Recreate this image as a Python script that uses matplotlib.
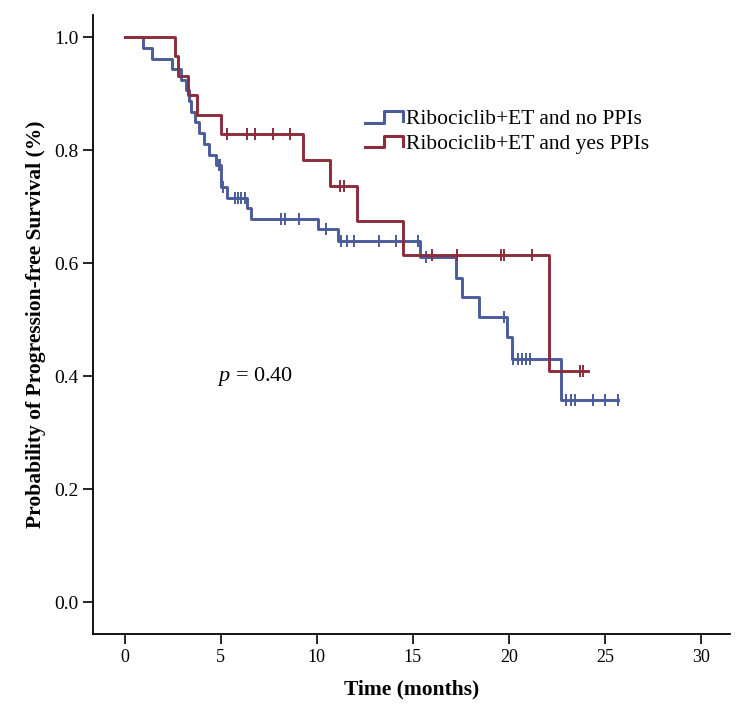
import numpy as np
import matplotlib
matplotlib.use("Agg")
import matplotlib.pyplot as plt
from matplotlib.legend_handler import HandlerBase
from matplotlib.lines import Line2D

plt.rcParams['font.family'] = ['Liberation Serif', 'DejaVu Serif']
plt.rcParams['mathtext.fontset'] = 'custom'
plt.rcParams['mathtext.it'] = 'Liberation Serif:italic'
plt.rcParams['mathtext.rm'] = 'Liberation Serif'

# Kaplan-Meier estimates
no_ppi_label = "Ribociclib+ET and no PPIs"
no_ppi_times = [0, 0.95, 1.4, 2.45, 2.95, 3.2, 3.35, 3.45, 3.65, 3.85, 4.15, 4.4,
                4.75, 5.03, 5.35, 6.35, 6.55, 10.05, 11.1, 15.35, 17.25, 17.56,
                18.46, 19.9, 20.16, 22.74]
no_ppi_surv = [1.0, 0.981, 0.962, 0.943, 0.925, 0.906, 0.887, 0.868, 0.849, 0.830,
               0.811, 0.792, 0.774, 0.735, 0.716, 0.697, 0.679, 0.660, 0.639,
               0.611, 0.574, 0.540, 0.505, 0.469, 0.430, 0.357]
no_ppi_censor = [4.9, 4.97, 5.1, 5.72, 5.89, 6.07, 6.24, 8.15, 8.32, 9.1, 10.5,
                 11.27, 11.6, 11.96, 13.26, 14.13, 14.5, 15.25, 15.7, 19.75, 20.2,
                 20.5, 20.7, 20.9, 21.1, 23.0, 23.25, 23.45, 24.4, 25.0, 25.7]
no_ppi_end = 25.7

ppi_label = "Ribociclib+ET and yes PPIs"
ppi_times = [0, 2.6, 2.75, 3.3, 3.75, 5.0, 9.3, 10.7, 12.1, 14.5, 22.1]
ppi_surv = [1.0, 0.966, 0.931, 0.897, 0.862, 0.828, 0.782, 0.736, 0.675, 0.614, 0.409]
ppi_censor = [5.3, 6.35, 6.8, 7.7, 8.6, 11.2, 11.4, 16.0, 17.3, 19.6, 19.75, 21.2,
              23.7, 23.85]
ppi_end = 24.1

p_text = "$p$ = 0.40"

blue = '#4a5d9a'
red = '#8d2c3a'


class StepHandler(HandlerBase):
    """legend key drawn as a small step, like SPSS does"""
    def create_artists(self, legend, orig_handle, xdescent, ydescent,
                       width, height, fontsize, trans):
        x0 = -xdescent
        xs = [x0, x0 + 0.5 * width, x0 + 0.5 * width, x0 + width, x0 + width]
        ys = [0.1 * height, 0.1 * height, 0.85 * height, 0.85 * height, 0.2 * height]
        line = Line2D(xs, ys, color=orig_handle.get_color(), lw=2.2, transform=trans)
        return [line]


def draw_km(ax, times, surv, censor, end, color, label):
    t = list(times) + [end]
    s = list(surv) + [surv[-1]]
    line, = ax.step(t, s, where='post', color=color, lw=2.1, label=label)
    idx = np.searchsorted(times, censor, side='right') - 1
    cy = np.array(surv)[idx]
    ax.plot(censor, cy, linestyle='none', marker='|', markersize=8,
            markeredgewidth=1.4, color=color)
    return line


fig = plt.figure(figsize=(7.37, 7.2), dpi=100)
ax = fig.add_axes([0.126, 0.119, 0.864, 0.86])

h1 = draw_km(ax, no_ppi_times, no_ppi_surv, no_ppi_censor, no_ppi_end, blue, no_ppi_label)
h2 = draw_km(ax, ppi_times, ppi_surv, ppi_censor, ppi_end, red, ppi_label)

ax.text(4.8, 0.40, p_text, fontsize=16, va='center', ha='left')

ax.set_xlim(-1.66, 31.5)
ax.set_ylim(-0.057, 1.039)
ax.set_xticks([0, 5, 10, 15, 20, 25, 30])
ax.set_yticks([0.0, 0.2, 0.4, 0.6, 0.8, 1.0])
ax.set_yticklabels(['0.0', '0.2', '0.4', '0.6', '0.8', '1.0'])
ax.tick_params(direction='out', length=7, width=1.2, labelsize=13)
ax.tick_params(axis='y', labelsize=14)
ax.spines['top'].set_visible(False)
ax.spines['right'].set_visible(False)
ax.spines['left'].set_linewidth(1.3)
ax.spines['bottom'].set_linewidth(1.3)

ax.set_xlabel("Time (months)", fontsize=15.5, fontweight='bold', labelpad=10)
ax.set_ylabel("Probability of Progression-free Survival (%)", fontsize=15.5,
              fontweight='bold', labelpad=6)

ax.legend(handles=[h1, h2], handler_map={Line2D: StepHandler()},
          loc='upper left', bbox_to_anchor=(0.414, 0.862), frameon=False,
          fontsize=15.5, handlelength=1.75, handletextpad=0.15, labelspacing=0.2,
          borderaxespad=0)

fig.savefig('out.png', dpi=100)
